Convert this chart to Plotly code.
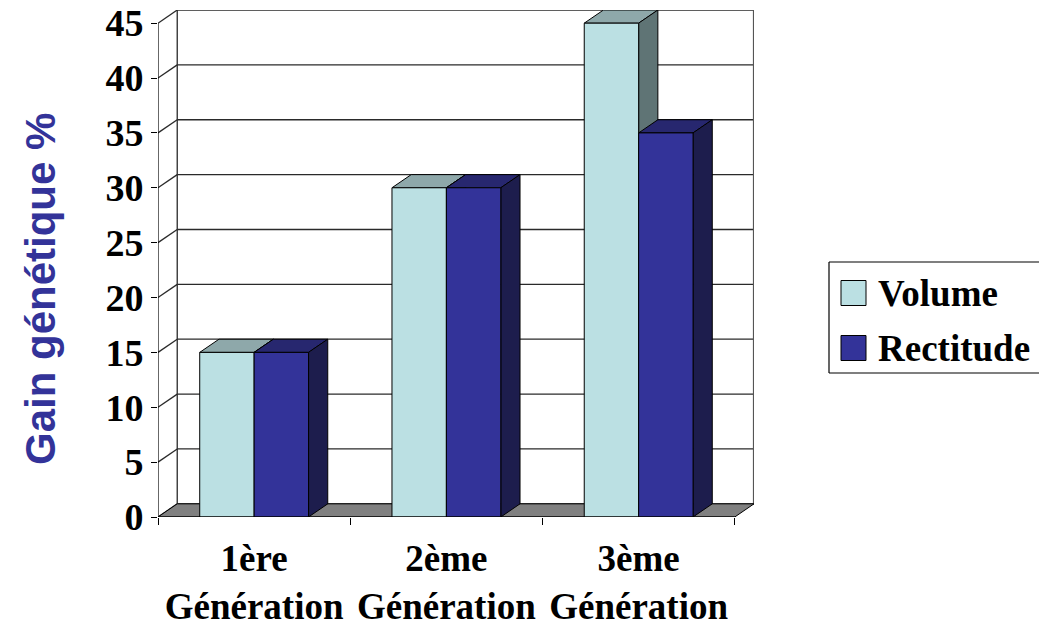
import plotly.graph_objects as go

# ---- data -------------------------------------------------------------
categories = ["1ère<br>Génération", "2ème<br>Génération", "3ème<br>Génération"]
series_names = ["Volume", "Rectitude"]
volume = [15, 30, 45]
rectitude = [15, 30, 35]
y_ticks = [0, 5, 10, 15, 20, 25, 30, 35, 40, 45]

# ---- styling ----------------------------------------------------------
FRONT = {"Volume": "#BBE0E3", "Rectitude": "#333399"}
TOP = {"Volume": "#8EA8AA", "Rectitude": "#27276F"}
SIDE = {"Volume": "#5F7475", "Rectitude": "#1D1D4D"}
FLOOR = "#808080"
GRID = "#2a2a2a"
SERIF = "Liberation Serif, Times New Roman, serif"
SANS = "Liberation Sans, Arial, sans-serif"

# figure geometry (pixels)
W, H = 1039, 628
ML, MR, MT, MB = 158, 285, 10, 111
PW, PH = W - ML - MR, H - MT - MB

# 3-D depth offset expressed in data units, and bar width per series
DX, DY = 0.1, 1.2
BAR_W = 0.283
Y_MAX = max(y_ticks)
n = len(categories)
series = {"Volume": volume, "Rectitude": rectitude}


def px_x(px):
    return (px - ML) / PW


def px_y(py):
    return (H - MB - py) / PH


def line(x0, y0, x1, y1, color="black", width=1.0, layer="below", ref=("x", "y")):
    return dict(type="line", xref=ref[0], yref=ref[1], x0=x0, y0=y0, x1=x1, y1=y1,
                line=dict(color=color, width=width), layer=layer)


def poly(pts, fill, color="black", width=1.0, layer="below"):
    d = "M " + " L ".join(f"{x},{y}" for x, y in pts) + " Z"
    return dict(type="path", xref="x", yref="y", path=d, fillcolor=fill,
                line=dict(color=color, width=width), layer=layer)


shapes = []
# back wall and left side wall
shapes.append(poly([(DX, DY), (n + DX, DY), (n + DX, Y_MAX + DY), (DX, Y_MAX + DY)],
                   "white", width=0))
shapes.append(poly([(0, 0), (DX, DY), (DX, Y_MAX + DY), (0, Y_MAX)], "white", width=0))
# gridlines running across the back wall and along the side wall
for v in y_ticks:
    shapes.append(line(DX, v + DY, n + DX, v + DY, GRID, 1.3))
    shapes.append(line(0, v, DX, v + DY, GRID, 1.3))
shapes.append(line(DX, DY, DX, Y_MAX + DY, GRID, 1.3))
shapes.append(line(n + DX, DY, n + DX, Y_MAX + DY, "#555555", 2.2))
# floor
shapes.append(poly([(0, 0), (n, 0), (n + DX, DY), (DX, DY)], FLOOR, "black", 1.0))

# top and side faces of each bar (front faces are the bar traces)
for i in range(n):
    for j, name in enumerate(series_names):
        v = series[name][i]
        x0 = i + 0.5 - BAR_W + j * BAR_W
        x1 = x0 + BAR_W
        shapes.append(poly([(x0, v), (x1, v), (x1 + DX, v + DY), (x0 + DX, v + DY)],
                           TOP[name], "black", 1.0))
        shapes.append(poly([(x1, 0), (x1 + DX, DY), (x1 + DX, v + DY), (x1, v)],
                           SIDE[name], "black", 1.0))

# front axis lines
shapes.append(line(0, 0, 0, Y_MAX, "black", 1.2, layer="above"))
shapes.append(line(0, 0, n, 0, "black", 1.2, layer="above"))

fig = go.Figure()
for j, name in enumerate(series_names):
    fig.add_trace(go.Bar(
        name=name,
        x=[i + 0.5 - BAR_W / 2 + j * BAR_W for i in range(n)],
        y=series[name],
        width=BAR_W,
        marker=dict(color=FRONT[name], line=dict(color="black", width=1)),
        showlegend=False,
    ))

# legend box (open on the right, running off the page edge)
LEG_X0, LEG_Y0, LEG_Y1 = 829, 262, 373
P = ("paper", "paper")
lx0, lx1 = px_x(LEG_X0), px_x(W + 30)
ly0, ly1 = px_y(LEG_Y1), px_y(LEG_Y0)
shapes.append(dict(type="rect", xref="paper", yref="paper", x0=lx0, x1=lx1, y0=ly0, y1=ly1,
                   line=dict(width=0), fillcolor="white", layer="above"))
shapes.append(line(lx0, ly0, lx0, ly1, "black", 1.2, "above", P))
shapes.append(line(lx0, ly0, lx1, ly0, "black", 1.2, "above", P))
shapes.append(line(lx0, ly1, lx1, ly1, "black", 1.2, "above", P))

annotations = []
for k, name in enumerate(series_names):
    cy = 293 + k * 55
    shapes.append(dict(type="rect", xref="paper", yref="paper",
                       x0=px_x(841), x1=px_x(866), y0=px_y(cy + 12.5), y1=px_y(cy - 12.5),
                       line=dict(color="black", width=1), fillcolor=FRONT[name],
                       layer="above"))
    annotations.append(dict(xref="paper", yref="paper", x=px_x(876), y=px_y(cy),
                            xanchor="left", yanchor="middle", showarrow=False,
                            text=name,
                            font=dict(family=SERIF, size=37, color="black", weight="bold")))

# y-axis title
annotations.append(dict(xref="paper", yref="paper", x=px_x(41), y=px_y(289),
                        xanchor="center", yanchor="middle", showarrow=False,
                        textangle=-90, text="Gain génétique %",
                        font=dict(family=SANS, size=42, color="#333399", weight="bold")))

fig.update_layout(
    width=W, height=H,
    margin=dict(l=ML, r=MR, t=MT, b=MB, pad=0, autoexpand=False),
    paper_bgcolor="white", plot_bgcolor="white",
    barmode="overlay",
    shapes=shapes,
    annotations=annotations,
    showlegend=False,
    xaxis=dict(
        range=[0, n + DX], tickmode="array",
        tickvals=[i + 0.5 for i in range(n)], ticktext=categories,
        ticks="", showgrid=False, zeroline=False, showline=False,
        automargin=False, ticklabelstandoff=16,
        tickfont=dict(family=SERIF, size=37, color="black", weight="bold"),
        minor=dict(tickmode="array", tickvals=list(range(n + 1)), ticks="outside",
                   ticklen=7, tickcolor="black", tickwidth=1.2, showgrid=False),
        fixedrange=True,
    ),
    yaxis=dict(
        range=[0, Y_MAX + DY], tickmode="array", tickvals=y_ticks,
        ticks="outside", ticklen=6, tickcolor="black", tickwidth=1.2,
        showgrid=False, zeroline=False, showline=False, automargin=False,
        tickfont=dict(family=SERIF, size=38, color="black", weight="bold"),
        fixedrange=True,
    ),
)

fig.write_html("out.html")
